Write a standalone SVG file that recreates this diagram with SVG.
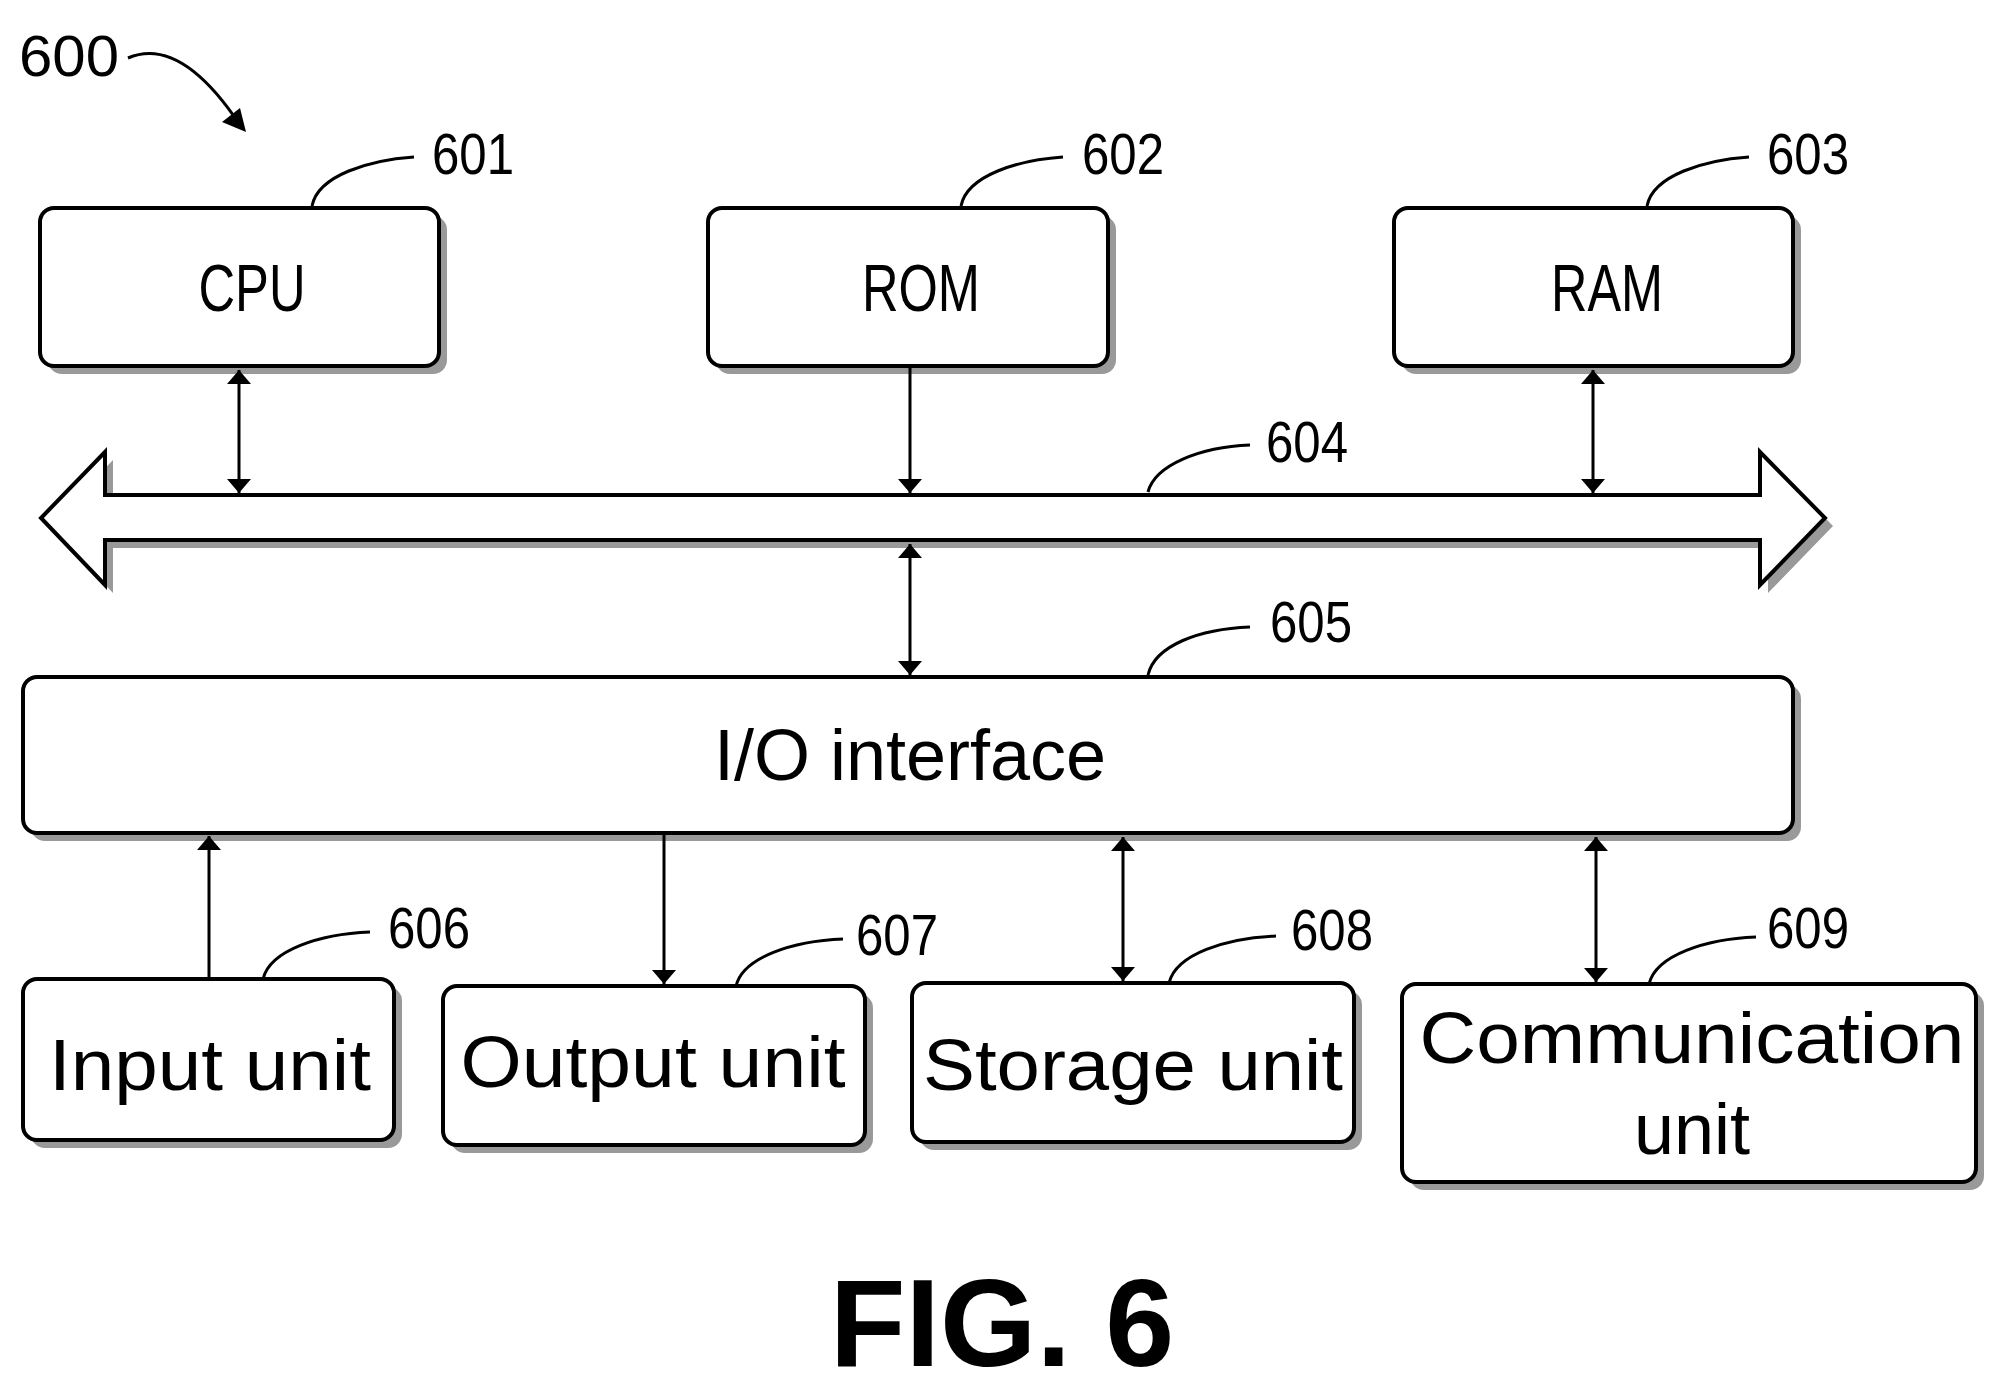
<svg xmlns="http://www.w3.org/2000/svg" width="2015" height="1395" viewBox="0 0 2015 1395">
<defs>
<style>
.box{fill:#fff;stroke:#000;stroke-width:4}
.sh{fill:#999;stroke:none}
.ln{fill:none;stroke:#000;stroke-width:3}
.n{font-family:"Liberation Sans",Arial,sans-serif;font-size:58px}
.t{font-family:"Liberation Sans",Arial,sans-serif;font-size:66px;text-anchor:middle}
.b{font-family:"Liberation Sans",Arial,sans-serif;font-size:72px;text-anchor:middle}
</style>
<marker id="ah" viewBox="0 0 10 10" refX="10" refY="5" markerWidth="10" markerHeight="10" markerUnits="userSpaceOnUse" orient="auto-start-reverse"><path d="M0,1 L10,5 L0,9 z" fill="#000"/></marker>
<marker id="a" viewBox="0 0 10 10" refX="10" refY="5" markerWidth="14" markerHeight="24" markerUnits="userSpaceOnUse" orient="auto-start-reverse" preserveAspectRatio="none"><path d="M0,0 L10,5 L0,10 z" fill="#000"/></marker>
</defs>
<rect width="2015" height="1395" fill="#fff"/>
<g id="label600">
<text class="n" x="19" y="76" textLength="100" lengthAdjust="spacingAndGlyphs">600</text>
<path class="ln" d="M128,58 C170,40 210,80 240,125"/>
<path d="M246,132 L222,122 L240,108 z" fill="#000"/>
</g>
<g id="cpu"><rect class="sh" x="48" y="216" width="399" height="158" rx="14"/><rect class="box" x="40" y="208" width="399" height="158" rx="14"/><text class="t" x="252" y="311" textLength="107" lengthAdjust="spacingAndGlyphs">CPU</text>
<path class="ln" d="M312,206 C318,175 370,160 414,157"/><text class="n" x="432" y="174" textLength="82" lengthAdjust="spacingAndGlyphs">601</text></g>
<g id="rom"><rect class="sh" x="716" y="216" width="400" height="158" rx="14"/><rect class="box" x="708" y="208" width="400" height="158" rx="14"/><text class="t" x="921" y="311" textLength="118" lengthAdjust="spacingAndGlyphs">ROM</text>
<path class="ln" d="M961,206 C967,175 1019,160 1063,157"/><text class="n" x="1082" y="174" textLength="82" lengthAdjust="spacingAndGlyphs">602</text></g>
<g id="ram"><rect class="sh" x="1402" y="216" width="399" height="158" rx="14"/><rect class="box" x="1394" y="208" width="399" height="158" rx="14"/><text class="t" x="1607" y="311" textLength="112" lengthAdjust="spacingAndGlyphs">RAM</text>
<path class="ln" d="M1647,206 C1653,175 1705,160 1749,157"/><text class="n" x="1767" y="174" textLength="82" lengthAdjust="spacingAndGlyphs">603</text></g>
<g id="bus">
<path d="M113,503 L113,460 L49,526 L113,593 L113,548 L1768,548 L1768,593 L1833,526 L1768,460 L1768,503 z" fill="#999"/>
<path d="M105,495 L105,452 L41,518 L105,585 L105,540 L1760,540 L1760,585 L1825,518 L1760,452 L1760,495 z" fill="#fff" stroke="#000" stroke-width="4" stroke-linejoin="miter"/>
<path class="ln" d="M1148,492 C1155,465 1200,447 1250,445"/><text class="n" x="1266" y="462" textLength="82" lengthAdjust="spacingAndGlyphs">604</text>
</g>
<g id="io"><rect class="sh" x="31" y="685" width="1770" height="156" rx="14"/><rect class="box" x="23" y="677" width="1770" height="156" rx="14"/><text class="b" x="910" y="780">I/O interface</text>
<path class="ln" d="M1148,675 C1155,645 1200,629 1250,627"/><text class="n" x="1270" y="642" textLength="82" lengthAdjust="spacingAndGlyphs">605</text></g>
<g id="input"><rect class="sh" x="31" y="987" width="371" height="161" rx="14"/><rect class="box" x="23" y="979" width="371" height="161" rx="14"/><text class="b" x="210" y="1090" font-size="76" textLength="322" lengthAdjust="spacingAndGlyphs">Input unit</text>
<path class="ln" d="M263,979 C270,950 320,934 370,932"/><text class="n" x="388" y="948" textLength="82" lengthAdjust="spacingAndGlyphs">606</text></g>
<g id="output"><rect class="sh" x="451" y="994" width="422" height="159" rx="14"/><rect class="box" x="443" y="986" width="422" height="159" rx="14"/><text class="b" x="653" y="1087" font-size="76" textLength="385" lengthAdjust="spacingAndGlyphs">Output unit</text>
<path class="ln" d="M736,986 C743,957 793,941 843,939"/><text class="n" x="856" y="955" textLength="82" lengthAdjust="spacingAndGlyphs">607</text></g>
<g id="storage"><rect class="sh" x="920" y="991" width="442" height="159" rx="14"/><rect class="box" x="912" y="983" width="442" height="159" rx="14"/><text class="b" x="1133" y="1090" font-size="76" textLength="420" lengthAdjust="spacingAndGlyphs">Storage unit</text>
<path class="ln" d="M1169,983 C1176,954 1226,938 1276,936"/><text class="n" x="1291" y="950" textLength="82" lengthAdjust="spacingAndGlyphs">608</text></g>
<g id="comm"><rect class="sh" x="1410" y="992" width="574" height="198" rx="14"/><rect class="box" x="1402" y="984" width="574" height="198" rx="14"/><text class="b" x="1692" y="1063" font-size="76" textLength="545" lengthAdjust="spacingAndGlyphs">Communication</text><text class="b" x="1692" y="1154" font-size="76">unit</text>
<path class="ln" d="M1649,984 C1656,955 1706,939 1756,937"/><text class="n" x="1767" y="948" textLength="82" lengthAdjust="spacingAndGlyphs">609</text></g>
<g id="connectors">
<line class="ln" x1="239" y1="370" x2="239" y2="493" marker-start="url(#a)" marker-end="url(#a)"/>
<line class="ln" x1="910" y1="368" x2="910" y2="493" marker-end="url(#a)"/>
<line class="ln" x1="1593" y1="370" x2="1593" y2="493" marker-start="url(#a)" marker-end="url(#a)"/>
<line class="ln" x1="910" y1="544" x2="910" y2="675" marker-start="url(#a)" marker-end="url(#a)"/>
<line class="ln" x1="209" y1="977" x2="209" y2="836" marker-end="url(#a)"/>
<line class="ln" x1="664" y1="835" x2="664" y2="984" marker-end="url(#a)"/>
<line class="ln" x1="1123" y1="837" x2="1123" y2="981" marker-start="url(#a)" marker-end="url(#a)"/>
<line class="ln" x1="1596" y1="837" x2="1596" y2="982" marker-start="url(#a)" marker-end="url(#a)"/>
</g>
<text x="1002" y="1366" font-family="Liberation Sans,Arial,sans-serif" font-weight="bold" font-size="124" text-anchor="middle">FIG. 6</text>
</svg>
